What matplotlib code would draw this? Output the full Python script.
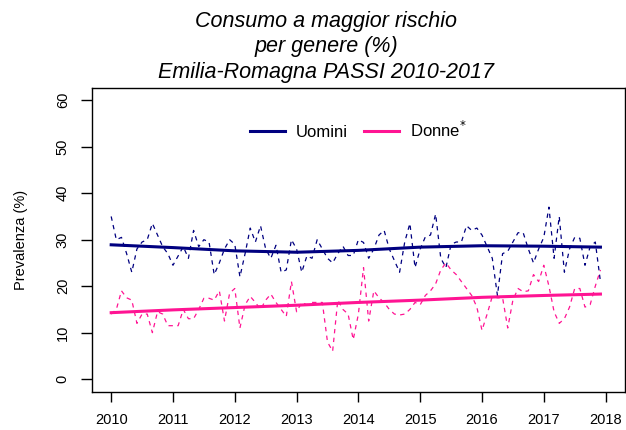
import numpy as np
import matplotlib
matplotlib.use('Agg')
import matplotlib.pyplot as plt

plt.rcParams['font.family'] = ['Liberation Sans', 'DejaVu Sans']

# ------------------------------ DATA -----------------------------------------
years = list(range(2010, 2018))
# monthly prevalence (%), Jan-Dec for each year
uomini = [35, 30, 30.5, 27, 23, 28, 29.5, 30, 33.5, 31, 28.5, 27,      # 2010
          24.5, 26.5, 28.5, 26, 32, 28.5, 30, 29.5, 22.5, 25, 28, 30,  # 2011
          29, 22, 27, 32.5, 29.5, 33, 28, 26, 28.8, 23, 23.5, 30,      # 2012
          28, 23, 26.5, 26, 30, 28, 26, 25, 27, 28.6, 26.6, 26.6,      # 2013
          30, 29.4, 26, 28, 31, 32, 28, 25.5, 23, 29.5, 33.5, 24,      # 2014
          28, 30.6, 31, 35.5, 26, 24, 29, 29.5, 29.5, 33, 32, 32.5,    # 2015
          31, 28.5, 26, 18, 27, 27.5, 29.5, 31.5, 31.5, 28, 25, 28,    # 2016
          30.5, 37, 26, 35, 23, 28, 30.5, 30.3, 24.5, 28.5, 29.5, 21]  # 2017
donne = [14, 15, 19, 17.5, 17, 12, 14, 14, 10, 14.5, 14, 11.5,         # 2010
         11.5, 11.5, 15, 13, 13, 15, 17.4, 17.4, 17, 19, 12.5, 18.5,   # 2011
         19.5, 11, 16, 17.8, 16.5, 15, 17, 18.3, 16.5, 15, 13.5, 21,   # 2012
         14.5, 16.5, 16, 16.5, 16.5, 16.5, 8, 6, 17, 15, 14, 8.5,      # 2013
         14, 24, 12.5, 19, 17.5, 16.5, 15, 14, 13.8, 14, 15, 16.5,     # 2014
         16, 18, 19, 20.5, 23.5, 25, 23.5, 22.5, 21, 19.5, 18, 15.5,   # 2015
         10.5, 14, 17.8, 17.5, 17.5, 11, 17, 19.5, 18.8, 19, 22.5, 21, # 2016
         24.5, 20, 14.5, 12, 13, 15.5, 19.5, 19.5, 15.5, 16, 20, 23.5] # 2017

# smoothed trend read at the start of each year (and at the last month)
trend_x = [2010, 2011, 2012, 2013, 2014, 2015, 2016, 2017, 2017 + 11 / 12]
trend_uomini = [28.9, 28.3, 27.6, 27.3, 27.7, 28.4, 28.7, 28.6, 28.4]
trend_donne = [14.3, 14.9, 15.4, 15.9, 16.5, 17.0, 17.6, 18.0, 18.3]

title = 'Consumo a maggior rischio\nper genere (%)\nEmilia-Romagna PASSI 2010-2017'

# ------------------------------ PLOTTING -------------------------------------
t = np.array([y + m / 12 for y in years for m in range(12)])
navy = '#000080'
pink = '#FF1493'

fig = plt.figure(figsize=(6.26, 4.30), dpi=100)
ax = fig.add_axes([0.147, 0.088, 0.851, 0.707])

ax.plot(t, uomini, color=navy, lw=0.9, ls=(0, (3.5, 3.5)))
ax.plot(t, donne, color=pink, lw=0.9, ls=(0, (3.5, 3.5)))
ax.plot(trend_x, trend_uomini, color=navy, lw=2.2, label='Uomini')
ax.plot(trend_x, trend_donne, color=pink, lw=2.2, label='Donne$^{*}$')

ax.set_xlim(2009.69, 2018.31)
ax.set_ylim(-2.8, 62.6)
ax.set_xticks(range(2010, 2019))
ax.set_yticks(range(0, 61, 10))
ax.tick_params(axis='y', labelrotation=90, length=8, width=1, labelsize=10.5, pad=8)
ax.tick_params(axis='x', length=7, width=1, labelsize=10.5, pad=8)
for lab in ax.get_yticklabels():
    lab.set_va('center')
for s in ax.spines.values():
    s.set_linewidth(1)
ax.set_ylabel('Prevalenza (%)', fontsize=10.5, labelpad=20)

ax.legend(loc='upper center', bbox_to_anchor=(0.5, 0.945), ncol=2, frameon=False,
          fontsize=12, handlelength=2.1, handletextpad=0.65, columnspacing=1.0)

fig.suptitle(title, x=0.521, y=0.975, fontsize=15.5, style='italic', linespacing=1.28)

fig.savefig('out.png', dpi=100)
